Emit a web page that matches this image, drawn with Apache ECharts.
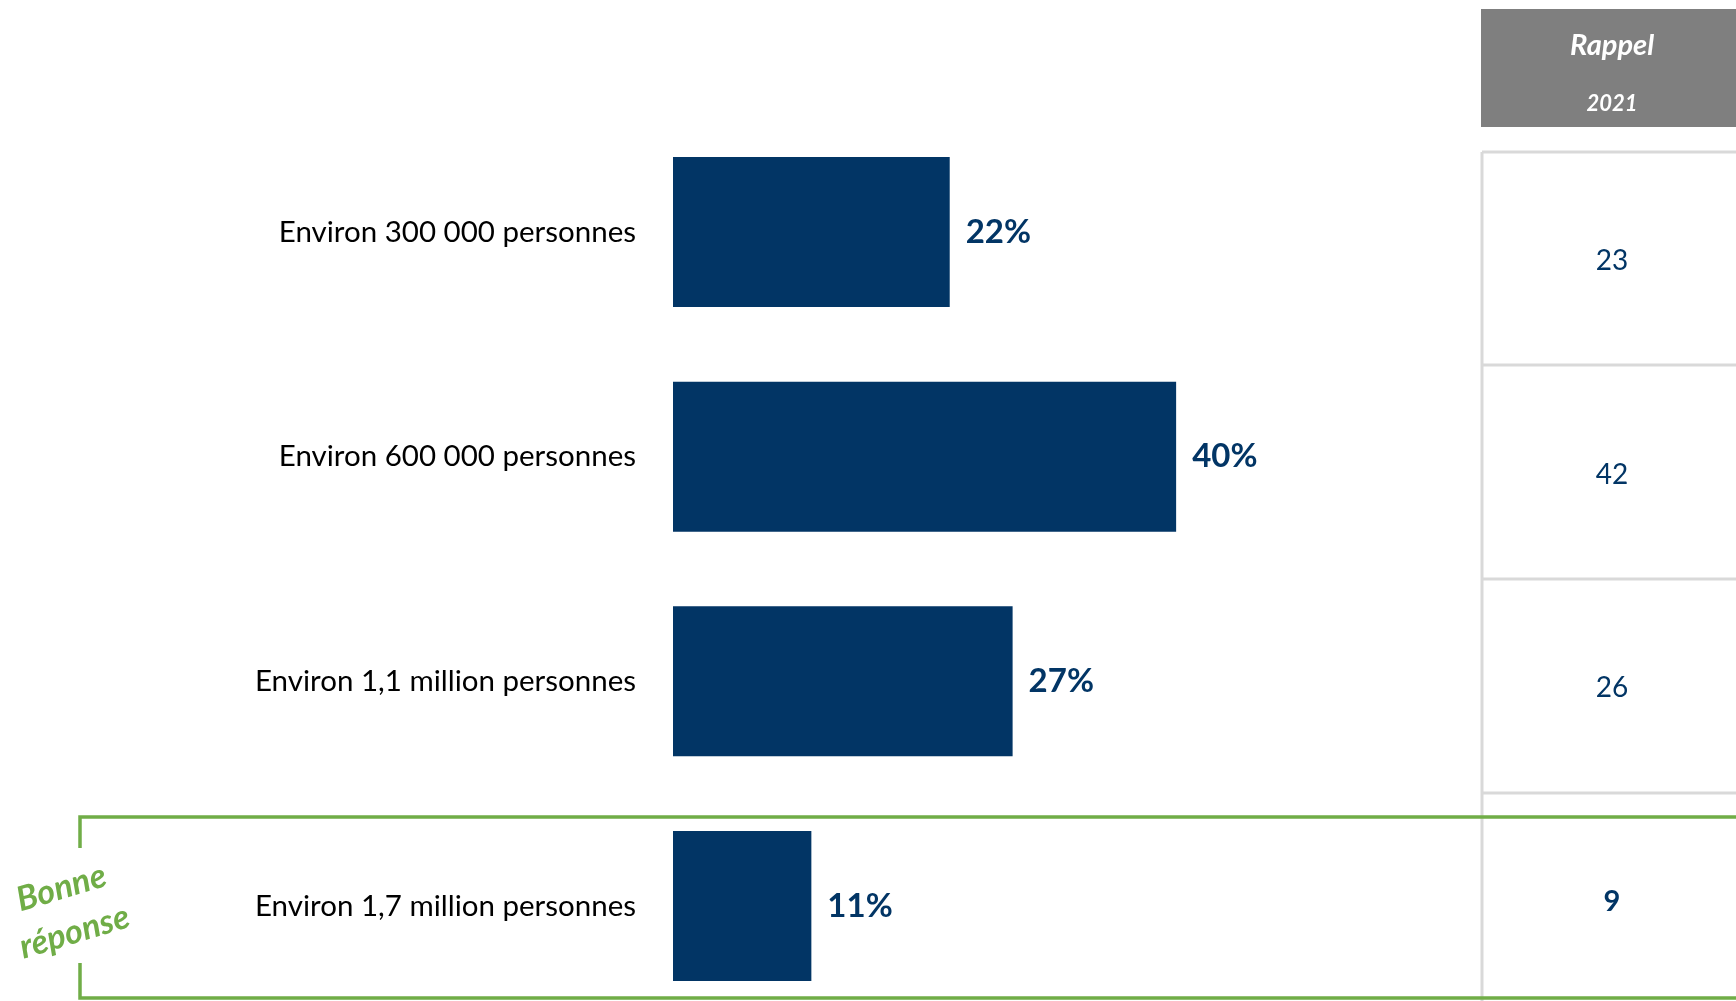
<!DOCTYPE html>
<html><head><meta charset="utf-8">
<script src="https://cdn.jsdelivr.net/npm/echarts@6/dist/echarts.min.js"></script>
<style>html,body{margin:0;padding:0;background:#fff}#c{width:1736px;height:1001px}</style>
</head><body><div id="c"></div>
<script>
const categories = ['Environ 300 000 personnes','Environ 600 000 personnes','Environ 1,1 million personnes','Environ 1,7 million personnes'];
const values2023 = [22, 40, 27, 11];
const rappel2021 = [23, 42, 26, 9];
const correctIndex = 3;
const headerTitle = 'Rappel';
const headerYear = '2021';
const goodAnswer = 'Bonne\nréponse';

const NAVY = '#023565';
const GREEN = '#70AD47';
const GREY = '#D9D9D9';
const FONT = 'Lato';

const chart = echarts.init(document.getElementById('c'));
chart.setOption({
  animation: false,
  grid: [
    {left: 673, top: 232, width: 805, height: 674},
    {left: 1481, top: 261, right: 0, height: 641}
  ],
  xAxis: [
    {gridIndex: 0, type: 'value', min: 0, max: 64, show: false},
    {gridIndex: 1, type: 'value', min: 0, max: 1, show: false}
  ],
  yAxis: [
    {gridIndex: 0, type: 'category', data: categories, inverse: true, boundaryGap: false,
     axisLine: {show: false}, axisTick: {show: false}, splitLine: {show: false},
     axisLabel: {margin: 37, fontSize: 29.5, color: '#000', fontFamily: FONT}},
    {gridIndex: 1, type: 'category', data: rappel2021.map(String), inverse: true, boundaryGap: false,
     axisLine: {show: false}, axisTick: {show: false}, splitLine: {show: false},
     axisLabel: {margin: -131, align: 'center', fontFamily: FONT,
       formatter: (v, i) => i === correctIndex ? '{b|' + v + '}' : '{n|' + v + '}',
       rich: {n: {fontSize: 28, color: NAVY, fontFamily: FONT},
              b: {fontSize: 29, color: NAVY, fontWeight: 'bold', fontFamily: FONT}}}}
  ],
  series: [{
    type: 'bar', xAxisIndex: 0, yAxisIndex: 0, data: values2023, barWidth: 150, clip: false,
    itemStyle: {color: NAVY},
    label: {show: true, position: 'right', distance: 16, formatter: '{c}%',
      fontSize: 33, fontWeight: 'bold', color: NAVY, fontFamily: FONT}
  }],
  graphic: [
    {type: 'rect', shape: {x: 1481, y: 9, width: 255, height: 118}, style: {fill: '#7F7F7F'}},
    {type: 'text', x: 1612, y: 46, style: {text: headerTitle, fill: '#fff', font: 'italic bold 29px ' + FONT, align: 'center', verticalAlign: 'middle'}},
    {type: 'text', x: 1612, y: 104, style: {text: headerYear, fill: '#fff', font: 'italic bold 22px ' + FONT, align: 'center', verticalAlign: 'middle'}},
    {type: 'line', shape: {x1: 1482, y1: 152, x2: 1482, y2: 1001}, style: {stroke: GREY, lineWidth: 3}},
    {type: 'line', shape: {x1: 1482, y1: 152, x2: 1736, y2: 152}, style: {stroke: GREY, lineWidth: 3}},
    {type: 'line', shape: {x1: 1482, y1: 365, x2: 1736, y2: 365}, style: {stroke: GREY, lineWidth: 3}},
    {type: 'line', shape: {x1: 1482, y1: 579, x2: 1736, y2: 579}, style: {stroke: GREY, lineWidth: 3}},
    {type: 'line', shape: {x1: 1482, y1: 793, x2: 1736, y2: 793}, style: {stroke: GREY, lineWidth: 3}},
    {type: 'polyline', shape: {points: [[1736, 817], [80, 817], [80, 848]]}, style: {stroke: GREEN, lineWidth: 3.5, fill: null}},
    {type: 'polyline', shape: {points: [[80, 963], [80, 998], [1736, 998]]}, style: {stroke: GREEN, lineWidth: 3.5, fill: null}},
    {type: 'text', x: 68, y: 910, rotation: 0.29, style: {text: goodAnswer, fill: GREEN, font: 'italic bold 34px ' + FONT, align: 'center', verticalAlign: 'middle', lineHeight: 46}}
  ]
});
</script></body></html>
